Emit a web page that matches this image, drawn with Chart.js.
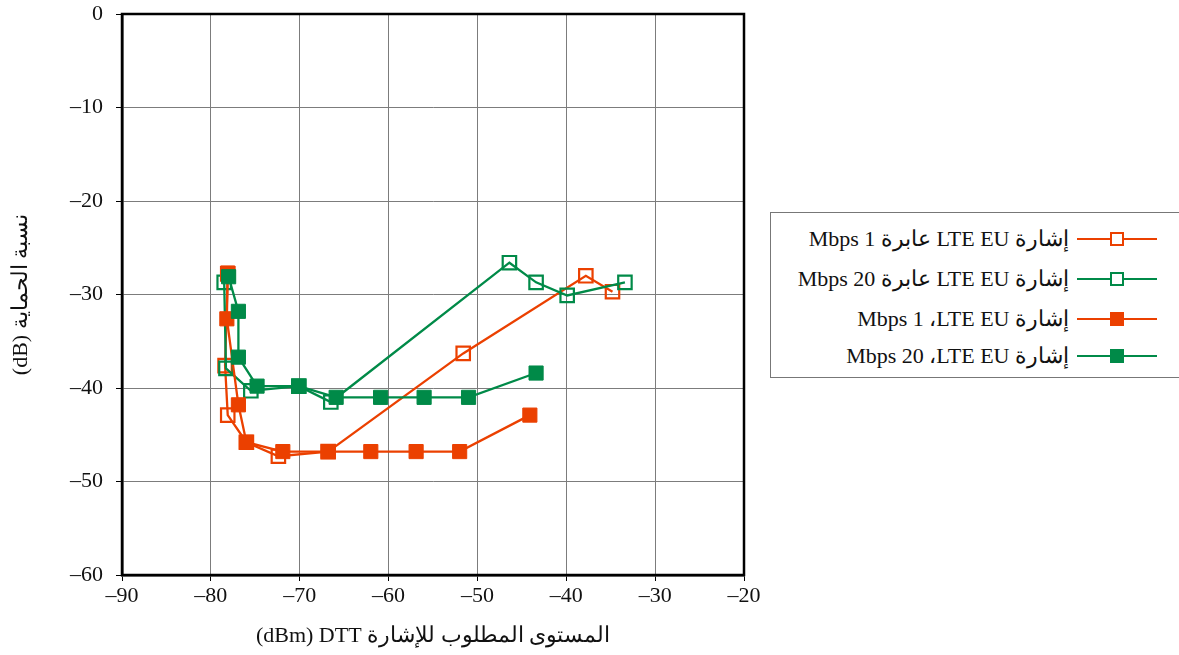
<!DOCTYPE html>
<html lang="ar">
<head>
<meta charset="utf-8">
<script src="https://cdn.jsdelivr.net/npm/chart.js@4.4.1/dist/chart.umd.min.js"></script>
<style>
  html, body { margin: 0; padding: 0; background: #fff; overflow: hidden; }
  #wrap { position: relative; width: 1179px; height: 655px; overflow: hidden; }
  #chart { position: absolute; left: 0; top: 0; }
  #legend {
    position: absolute; left: 770px; top: 212px; width: 430px; height: 166px;
    border: 1.5px solid #777; box-sizing: border-box; background: #fff;
    font-family: "Liberation Serif", "DejaVu Serif", serif; font-size: 22px; color: #111;
  }
  .row { position: absolute; left: 0; width: 430px; height: 26px; }
  .row .txt { position: absolute; left: 0; width: 298px; text-align: right; line-height: 26px; white-space: nowrap; direction: ltr; }
  .row .smp { position: absolute; left: 306px; width: 80px; height: 26px; }
  .smp .ln { position: absolute; left: 0; right: 0; top: 12px; height: 2px; }
  .smp .mk { position: absolute; left: 33px; top: 6px; width: 14px; height: 14px; box-sizing: border-box; }
</style>
</head>
<body>
<div id="wrap">
  <canvas id="chart" width="1179" height="655"></canvas>
  <div id="legend"></div>
</div>
<script>
const xTicks = [-90, -80, -70, -60, -50, -40, -30, -20];
const yTicks = [-60, -50, -40, -30, -20, -10, 0];

const orangeOpenX = [-78.1, -78.4, -78.1, -76.0, -72.4, -66.8, -51.6, -37.8, -34.8];
const orangeOpenY = [-27.8, -37.6, -42.9, -45.8, -47.3, -46.8, -36.3, -28.0, -29.7];

const greenOpenX = [-78.5, -78.3, -75.5, -70.1, -66.5, -46.4, -43.4, -39.9, -33.4];
const greenOpenY = [-28.7, -37.9, -40.3, -39.8, -41.5, -26.6, -28.7, -30.1, -28.7];

const orangeFilledX = [-78.1, -78.2, -76.9, -76.0, -71.9, -66.8, -62.0, -56.9, -52.0, -44.1];
const orangeFilledY = [-27.7, -32.6, -41.8, -45.8, -46.8, -46.8, -46.8, -46.8, -46.8, -42.9];

const greenFilledX = [-78.0, -76.9, -76.9, -74.8, -70.1, -65.9, -60.9, -56.0, -51.0, -43.4];
const greenFilledY = [-28.1, -31.8, -36.7, -39.8, -39.8, -41.0, -41.0, -41.0, -41.0, -38.4];

// legend labels (written in the order they appear on screen)
const seriesLabels = [
  'Mbps 1 عابرة LTE EU إشارة',
  'Mbps 20 عابرة LTE EU إشارة',
  'Mbps 1 ،LTE EU إشارة',
  'Mbps 20 ،LTE EU إشارة'
];
const xTitle = '(dBm) DTT المستوى المطلوب للإشارة';
const yTitle = '(dB) نسبة الحماية';

const ORANGE = '#EB4000';
const GREEN = '#008A48';
const FONT = '"Liberation Serif", "DejaVu Serif", serif';

function pts(xs, ys) {
  return xs.map((x, i) => ({ x: x, y: ys[i] }));
}

function fmt(v) {
  return v < 0 ? '\u2013' + Math.abs(v) : String(v);
}

const frame = {
  id: 'frame',
  afterDraw(chart) {
    const { ctx, chartArea: a } = chart;
    ctx.save();
    ctx.strokeStyle = '#000';
    ctx.lineWidth = 2.5;
    ctx.strokeRect(a.left, a.top, a.right - a.left, a.bottom - a.top);
    ctx.restore();
  }
};

const datasets = [
  { label: seriesLabels[0], data: pts(orangeOpenX, orangeOpenY), color: ORANGE, open: true, order: 4 },
  { label: seriesLabels[1], data: pts(greenOpenX, greenOpenY), color: GREEN, open: true, order: 3 },
  { label: seriesLabels[2], data: pts(orangeFilledX, orangeFilledY), color: ORANGE, open: false, order: 2 },
  { label: seriesLabels[3], data: pts(greenFilledX, greenFilledY), color: GREEN, open: false, order: 1 }
].map(d => ({
  label: d.label,
  data: d.data,
  order: d.order,
  showLine: true,
  borderColor: d.color,
  borderWidth: 2.3,
  backgroundColor: d.open ? 'rgba(0,0,0,0)' : d.color,
  pointStyle: 'rect',
  pointRadius: d.open ? 9.5 : 10,
  pointBorderWidth: d.open ? 2.2 : 1,
  pointBorderColor: d.color,
  pointBackgroundColor: d.open ? 'rgba(0,0,0,0)' : d.color,
  tension: 0
}));

new Chart(document.getElementById('chart'), {
  type: 'scatter',
  data: { datasets: datasets },
  plugins: [frame],
  options: {
    responsive: false,
    animation: false,
    devicePixelRatio: 1,
    layout: { padding: { left: 0, top: 14, right: 435, bottom: 0 } },
    plugins: { legend: { display: false }, tooltip: { enabled: false } },
    scales: {
      x: {
        type: 'linear',
        min: xTicks[0],
        max: xTicks[xTicks.length - 1],
        afterBuildTicks: s => { s.ticks = xTicks.map(v => ({ value: v })); },
        afterFit: s => { s.height = 80; s.paddingLeft = 0; s.paddingRight = 0; },
        ticks: { callback: fmt, color: '#111', padding: 2, font: { family: FONT, size: 22 }, maxRotation: 0 },
        grid: { color: '#7c7c7c', lineWidth: 1, tickLength: 6, tickColor: '#000' },
        border: { color: '#000', width: 2.5 },
        title: { display: true, text: xTitle, color: '#111', font: { family: FONT, size: 22 }, padding: { top: 0, bottom: 6 } }
      },
      y: {
        type: 'linear',
        min: yTicks[0],
        max: yTicks[yTicks.length - 1],
        afterBuildTicks: s => { s.ticks = yTicks.map(v => ({ value: v })); },
        afterFit: s => { s.width = 122; s.paddingTop = 0; s.paddingBottom = 0; },
        ticks: { callback: fmt, color: '#111', padding: 13, font: { family: FONT, size: 22 } },
        grid: { color: '#7c7c7c', lineWidth: 1, tickLength: 6, tickColor: '#000' },
        border: { color: '#000', width: 2.5 },
        title: { display: true, text: yTitle, color: '#111', font: { family: FONT, size: 22 }, padding: { top: 8, bottom: 0 } }
      }
    }
  }
});

// html legend
const legendTops = [13, 53, 93, 130];
const legendEl = document.getElementById('legend');
datasets.forEach((d, i) => {
  const open = i < 2;
  const row = document.createElement('div');
  row.className = 'row';
  row.style.top = legendTops[i] + 'px';
  const mkStyle = open
    ? `border:2px solid ${d.borderColor};background:#fff;`
    : `background:${d.borderColor};`;
  row.innerHTML = `<div class="txt">${d.label}</div>
    <div class="smp"><div class="ln" style="background:${d.borderColor}"></div><div class="mk" style="${mkStyle}"></div></div>`;
  legendEl.appendChild(row);
});
</script>
</body>
</html>
